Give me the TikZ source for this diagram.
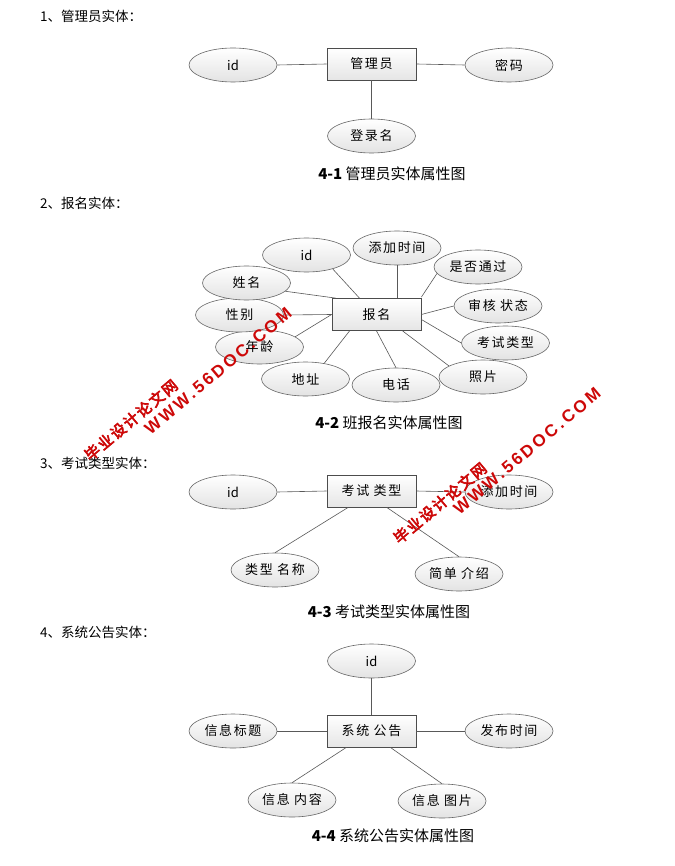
\documentclass[tikz,border=0pt]{standalone}
\usepackage{fontspec}
\setmainfont{Noto Sans CJK SC}
\newfontfamily\nodefont[LetterSpace=12]{Noto Sans CJK SC}
\newfontfamily\headfont{Noto Sans CJK SC}
\newfontfamily\capfont{Noto Sans CJK SC}
\newfontfamily\wmlatin[LetterSpace=16]{Liberation Sans Bold}
\newfontfamily\wmcjk[LetterSpace=12,FakeBold=4]{Noto Sans CJK SC}
\usetikzlibrary{shapes.geometric,calc}
\definecolor{wmred}{RGB}{205,8,8}
\tikzset{
  attr/.style={ellipse, draw=gray!80!black, line width=0.6pt, top color=white, bottom color=gray!22,
    minimum width=88pt, minimum height=34pt, inner sep=0pt, font=\fontsize{13}{15}\nodefont},
  idattr/.style={attr, font=\fontsize{13}{15}\capfont},
  ent/.style={rectangle, draw=black!70, line width=0.8pt, top color=white, bottom color=gray!20,
    minimum width=89pt, minimum height=32pt, inner sep=0pt, font=\fontsize{13}{15}\nodefont},
  link/.style={draw=black!65, line width=0.6pt},
  head/.style={anchor=west, inner sep=0pt, font=\fontsize{13.5}{15}\headfont},
  figcap/.style={inner sep=0pt, font=\fontsize{15}{17}\capfont},
  wmc/.style={inner sep=0pt, rotate=40, text=wmred, font=\fontsize{15}{17}\wmcjk},
  wml/.style={inner sep=0pt, rotate=40, text=wmred, font=\fontsize{17}{19}\wmlatin},
}
\begin{document}
\begin{tikzpicture}[x=1pt,y=-1pt]
\useasboundingbox (0,0) rectangle (674,866);
\fill[white] (0,0) rectangle (674,866);

% ---------- Section 1 ----------
\node[head] (h1) at (40,16) {1、管理员实体：};
\node[ent]  (gl)  at (371.5,64) {管理员};
\node[idattr] (id1) at (233,65) {id};
\node[attr] (mm)  at (509,65) {密码};
\node[attr] (dl)  at (371.5,136) {登录名};
\draw[link] (id1.east) -- (gl.west);
\draw[link] (gl.east) -- (mm.west);
\draw[link] (gl.south) -- (dl.north);
\node[figcap] (c1) at (392,174) {{\bfseries 4-1} 管理员实体属性图};

% ---------- Section 2 ----------
\node[head] (h2) at (40,203) {2、报名实体：};
\node[ent]  (bm) at (376.5,314.5) {报名};
\node[idattr] (id2) at (306.5,255) {id};
\node[attr] (tj2) at (397,248) {添加时间};
\node[attr] (sf)  at (478,267) {是否通过};
\node[attr] (sh)  at (498,306) {审核 状态};
\node[attr] (ks2) at (505.5,343) {考试类型};
\node[attr] (zp)  at (483,377) {照片};
\node[attr] (dh)  at (396,385) {电话};
\node[attr] (dz)  at (305.5,379) {地址};
\node[attr] (nl)  at (259.5,347) {年龄};
\node[attr] (xb)  at (239.5,315) {性别};
\node[attr] (xm)  at (246.5,283) {姓名};
\draw[link] (id2.-28) -- ($(bm.north west)!0.31!(bm.north east)$);
\draw[link] (tj2.south) -- (tj2.south |- bm.north);
\draw[link] (sf.189) -- ($(bm.north east)+(0,-1)$);
\draw[link] (bm.east) -- (sh.west);
\draw[link] ($(bm.east)+(0,5)$) -- (ks2.west);
\draw[link] ($(bm.south west)!0.79!(bm.south east)$) -- (zp.162);
\draw[link] (bm.south) -- (dh.north);
\draw[link] ($(bm.south west)!0.2!(bm.south east)$) -- (dz.40);
\draw[link] (bm.west) -- (nl.16);
\draw[link] (bm.west) -- (xb.east);
\draw[link] (xm.-12) -- ($(bm.north west)+(4,0)$);
\node[figcap] (c2) at (389,423) {{\bfseries 4-2} 班报名实体属性图};

% ---------- Section 3 ----------
\node[head] (h3) at (40,463) {3、考试类型实体：};
\node[ent]  (ks3) at (371.5,491) {考试 类型};
\node[idattr] (id3) at (233,492) {id};
\node[attr] (tj3) at (509,492) {添加时间};
\node[attr] (lx)  at (275,570) {类型 名称};
\node[attr] (jd)  at (459,574) {简单 介绍};
\draw[link] (id3.east) -- (ks3.west);
\draw[link] (ks3.east) -- (tj3.west);
\draw[link] ($(ks3.south west)!0.24!(ks3.south east)$) -- (lx.north);
\draw[link] ($(ks3.south west)!0.67!(ks3.south east)$) -- (jd.north);
\node[figcap] (c3) at (389,612) {{\bfseries 4-3} 考试类型实体属性图};

% ---------- Section 4 ----------
\node[head] (h4) at (40,632) {4、系统公告实体：};
\node[ent]  (xt)  at (371.5,731) {系统 公告};
\node[idattr] (id4) at (371.5,661) {id};
\node[attr] (bt)  at (233,731) {信息标题};
\node[attr] (fb)  at (509,731) {发布时间};
\node[attr] (nr)  at (292,800) {信息 内容};
\node[attr] (tp)  at (442,801) {信息 图片};
\draw[link] (id4.south) -- (xt.north);
\draw[link] (bt.east) -- (xt.west);
\draw[link] (xt.east) -- (fb.west);
\draw[link] ($(xt.south west)!0.22!(xt.south east)$) -- (nr.north);
\draw[link] ($(xt.south west)!0.71!(xt.south east)$) -- (tp.north);
\node[figcap] (c4) at (393,836) {{\bfseries 4-4} 系统公告实体属性图};

% ---------- Watermarks ----------
\node[wmc] (w1a) at (131,420) {毕业设计论文网};
\node[wml] (w1b) at (218,371) {WWW.56DOC.COM};
\node[wmc] (w2a) at (440,503) {毕业设计论文网};
\node[wml] (w2b) at (527,451) {WWW.56DOC.COM};
\end{tikzpicture}
\end{document}
